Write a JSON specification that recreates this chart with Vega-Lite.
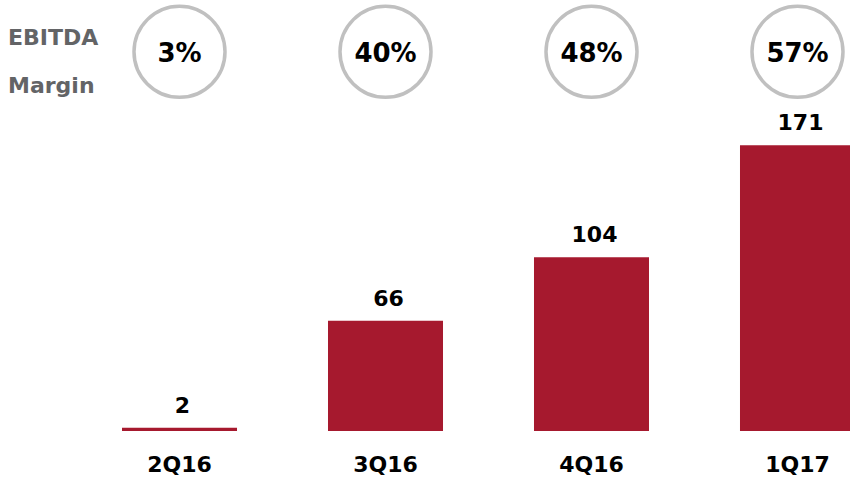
{
  "$schema": "https://vega.github.io/schema/vega-lite/v6.json",
  "width": 850,
  "height": 431,
  "autosize": {"type": "none"},
  "padding": {"left": 0, "top": 0, "right": 0, "bottom": 50},
  "background": "white",
  "config": {"view": {"stroke": null}, "font": "DejaVu Sans"},
  "title": {
    "text": ["EBITDA", "Margin"],
    "anchor": "start",
    "frame": "group",
    "fontSize": 22,
    "fontWeight": "bold",
    "color": "#636466",
    "lineHeight": 48,
    "baseline": "alphabetic",
    "dx": 8,
    "dy": 120
  },
  "data": {
    "values": [
      {"quarter": "2Q16", "ebitda": 2, "margin": 0.03},
      {"quarter": "3Q16", "ebitda": 66, "margin": 0.40},
      {"quarter": "4Q16", "ebitda": 104, "margin": 0.48},
      {"quarter": "1Q17", "ebitda": 171, "margin": 0.57}
    ]
  },
  "encoding": {
    "x": {
      "field": "quarter",
      "type": "nominal",
      "sort": null,
      "scale": {"type": "band", "range": [122, 855], "paddingInner": 0.4417, "paddingOuter": 0},
      "axis": {
        "title": null,
        "domain": false,
        "ticks": false,
        "labelAngle": 0,
        "labelFontSize": 22,
        "labelFontWeight": "bold",
        "labelColor": "#000000",
        "labelBaseline": "top",
        "labelPadding": 23
      }
    }
  },
  "layer": [
    {
      "mark": {"type": "bar", "color": "#a6192e"},
      "encoding": {
        "y": {"field": "ebitda", "type": "quantitative", "scale": {"domain": [0, 258], "nice": false}, "axis": null}
      }
    },
    {
      "mark": {"type": "text", "fontSize": 22, "fontWeight": "bold", "color": "#000000", "baseline": "alphabetic", "dy": -15, "dx": 3},
      "encoding": {
        "y": {"field": "ebitda", "type": "quantitative"},
        "text": {"field": "ebitda", "type": "quantitative"}
      }
    },
    {
      "mark": {"type": "point", "shape": "circle", "filled": false, "size": 8281, "stroke": "#c0c0c0", "strokeWidth": 3.5, "opacity": 1},
      "encoding": {
        "y": {"datum": 227, "type": "quantitative"}
      }
    },
    {
      "mark": {"type": "text", "fontSize": 26, "fontWeight": "bold", "color": "#000000", "baseline": "middle", "dy": 2},
      "encoding": {
        "y": {"datum": 227, "type": "quantitative"},
        "text": {"field": "margin", "type": "quantitative", "format": ".0%"}
      }
    }
  ]
}
